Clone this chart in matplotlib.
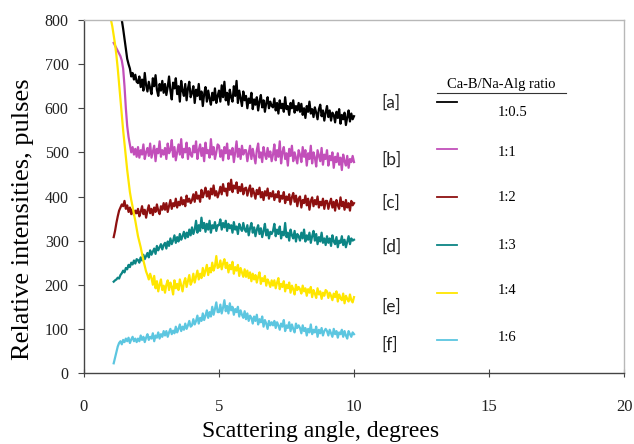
import numpy as np
import matplotlib
matplotlib.use("Agg")
import matplotlib.pyplot as plt

STEP = 0.05
labels = ["[a]", "[b]", "[c]", "[d]", "[e]", "[f]"]
ratios = ["1:0.5", "1:1", "1:2", "1:3", "1:4", "1:6"]
colors = ["#000000", "#C24FBA", "#8E1010", "#0C8585", "#FFE600", "#5CC6E0"]
starts = [1.4, 1.1, 1.1, 1.1, 1.0, 1.1]

a_vals = [800, 780, 758, 735, 712, 700, 690, 672, 680, 665, 676, 660,
          657, 672, 648, 665, 640, 680, 652, 638, 660, 645, 632, 668, 650, 675, 642, 628, 655, 640, 662, 635,
          655, 630, 648, 672, 640, 620, 658, 645, 668, 632, 650, 615, 662, 640, 628, 655, 618, 645, 660, 625,
          635, 650, 612, 642, 628, 655, 620, 638, 605, 632, 648, 615, 640, 622, 608, 635, 618, 645, 612, 628,
          640, 615, 652, 625, 660, 618, 635, 608, 642, 625, 615, 650, 628, 662, 612, 640, 622, 605, 638, 618,
          628, 600, 622, 612, 635, 598, 620, 608, 625, 595, 615, 630, 602, 618, 592, 612, 625, 600, 615, 605,
          602, 622, 595, 612, 588, 618, 600, 610, 592, 625, 598, 605, 585, 612, 600, 618, 590, 605, 595, 612,
          592, 610, 585, 600, 578, 605, 592, 615, 588, 598, 580, 602, 590, 575, 598, 608, 582, 595, 572, 590,
          605, 580, 595, 572, 590, 585, 568, 592, 578, 598, 565, 585, 575, 590, 562, 580, 595, 570, 588, 575,
          582]
b_vals = [748, 742, 736, 730, 724, 718, 708, 690, 650, 600, 560, 535, 518, 500, 512, 495, 508, 490,
          512, 488, 505, 495, 518, 485, 500, 510, 492, 520, 488, 502, 515, 480, 508, 498, 525, 490, 505, 495,
          510, 485, 520, 498, 505, 528, 490, 512, 482, 500, 518, 495, 530, 488, 508, 500, 522, 485, 510, 495,
          490, 515, 500, 525, 485, 505, 518, 492, 510, 480, 522, 498, 505, 488, 530, 495, 512, 485, 500, 518,
          515, 490, 505, 482, 512, 498, 520, 485, 505, 495, 510, 478, 500, 525, 490, 508, 485, 515, 495, 505,
          505, 480, 498, 515, 485, 508, 492, 475, 505, 520, 488, 500, 478, 512, 495, 485, 510, 490, 502, 480,
          495, 518, 482, 505, 490, 525, 475, 500, 512, 485, 498, 470, 508, 492, 515, 480, 500, 488, 475, 505,
          495, 478, 512, 490, 505, 470, 498, 485, 515, 475, 500, 488, 468, 505, 492, 480, 510, 472, 495, 485,
          505, 470, 492, 482, 500, 465, 490, 478, 498, 472, 488, 460, 495, 480, 470, 492, 465, 485, 478, 492,
          478]
c_vals = [308, 322, 340, 355, 368, 375, 382, 378, 390, 372, 380, 365, 375, 360, 372, 358, 368, 362,
          372, 355, 365, 378, 360, 370, 352, 368, 380, 362, 372, 358, 375, 365, 382, 368, 360, 378, 370, 385,
          370, 385, 365, 378, 392, 372, 385, 378, 395, 375, 388, 380, 398, 382, 392, 378, 402, 388, 395, 385,
          392, 405, 388, 410, 395, 402, 388, 415, 398, 408, 420, 400, 412, 395, 418, 405, 425, 402, 412, 398,
          408, 422, 405, 428, 412, 418, 402, 430, 415, 438, 410, 425, 418, 432, 408, 422, 412, 428, 405, 418,
          420, 402, 415, 425, 400, 418, 408, 395, 415, 405, 420, 398, 410, 392, 412, 402, 418, 395, 408, 400,
          412, 392, 405, 398, 412, 388, 402, 395, 410, 385, 400, 392, 405, 382, 398, 408, 388, 402, 378, 395,
          400, 375, 392, 385, 402, 380, 395, 370, 390, 398, 378, 392, 382, 400, 375, 388, 380, 395, 372, 390,
          390, 372, 385, 395, 375, 388, 368, 392, 380, 372, 398, 378, 388, 370, 392, 375, 385, 368, 390, 380,
          385]
d_vals = [207, 210, 212, 216, 214, 222, 226, 232, 228, 238, 235, 245, 240, 250, 246, 255, 248, 258,
          256, 250, 262, 255, 268, 258, 265, 272, 262, 278, 268, 275, 282, 270, 288, 278, 285, 292, 280, 290,
          295, 282, 298, 288, 305, 292, 300, 312, 295, 308, 298, 315, 302, 310, 320, 305, 318, 308, 325, 312,
          330, 315, 325, 345, 318, 335, 322, 352, 328, 340, 320, 338, 325, 345, 318, 335, 328, 342, 322, 335,
          335, 348, 325, 340, 330, 345, 322, 338, 328, 335, 318, 342, 325, 332, 315, 338, 328, 322, 340, 325,
          320, 335, 312, 328, 340, 318, 330, 310, 325, 335, 315, 328, 308, 322, 338, 312, 325, 305, 320, 315,
          322, 338, 310, 325, 315, 332, 305, 320, 312, 340, 308, 318, 300, 325, 312, 305, 322, 298, 315, 310,
          300, 318, 305, 325, 298, 312, 302, 318, 295, 310, 322, 300, 315, 292, 308, 298, 318, 295, 305, 290,
          310, 295, 305, 288, 312, 298, 292, 308, 285, 300, 295, 310, 290, 302, 285, 298, 310, 292, 305, 300,
          302]
e_vals = [800, 785, 765, 745, 720, 690, 655, 620, 585, 550, 520, 490, 460, 435, 410, 392, 377, 360, 345, 328,
          310, 298, 285, 270, 255, 242, 230, 222, 212, 225, 215, 200, 220, 192, 208, 185, 200, 212, 188, 198,
          182, 200, 210, 188, 205, 195, 178, 210, 192, 202, 188, 212, 198, 185, 205, 215, 195, 208, 222, 200,
          208, 225, 205, 218, 232, 212, 225, 215, 238, 220, 232, 245, 222, 238, 228, 250, 232, 242, 265, 238,
          240, 255, 235, 248, 258, 238, 250, 228, 245, 235, 252, 225, 240, 232, 245, 220, 238, 228, 218, 235,
          218, 232, 215, 228, 208, 225, 212, 222, 205, 218, 228, 202, 215, 208, 220, 198, 212, 205, 195, 210,
          198, 210, 192, 205, 215, 190, 202, 195, 208, 185, 200, 192, 205, 182, 198, 190, 178, 200, 188, 195,
          190, 180, 198, 185, 192, 175, 190, 182, 195, 172, 188, 180, 170, 192, 178, 185, 168, 182, 175, 188,
          185, 170, 182, 175, 165, 180, 172, 185, 162, 178, 170, 165, 180, 158, 175, 168, 162, 178, 165, 160,
          172]
f_vals = [22, 35, 48, 60, 68, 72, 65, 75, 70, 78, 72, 80, 68, 76, 82, 72, 78, 70,
          78, 72, 85, 75, 82, 70, 80, 88, 75, 82, 78, 90, 72, 85, 80, 92, 78, 88, 82, 95,
          85, 95, 82, 92, 100, 88, 96, 90, 105, 92, 100, 110, 95, 105, 98, 112, 100, 108, 118, 105,
          108, 122, 110, 118, 130, 112, 125, 118, 135, 120, 130, 142, 125, 138, 128, 150, 132, 145, 160, 138,
          138, 155, 135, 148, 165, 140, 152, 135, 158, 142, 150, 132, 145, 138, 150, 128, 142, 132, 125, 140,
          122, 135, 118, 130, 125, 112, 128, 118, 132, 110, 122, 115, 128, 105, 120, 112, 100, 118, 108, 115,
          108, 118, 102, 115, 108, 98, 112, 105, 120, 95, 108, 102, 115, 95, 110, 100, 92, 112, 102, 108,
          102, 90, 108, 95, 102, 85, 100, 92, 110, 88, 98, 92, 105, 82, 98, 90, 102, 85, 95, 100,
          95, 85, 98, 90, 82, 100, 88, 95, 80, 92, 88, 98, 82, 95, 85, 78, 95, 88, 82, 92,
          88]
series = [a_vals, b_vals, c_vals, d_vals, e_vals, f_vals]

x_ticks = [0, 5, 10, 15, 20]
y_ticks = [0, 100, 200, 300, 400, 500, 600, 700, 800]

fig = plt.figure(figsize=(6.34, 4.44), dpi=100)
ax = fig.add_axes([84/634, 1-373/444, (624-84)/634, (373-20)/444])

for vals, st, col in zip(series, starts, colors):
    x = st + STEP*np.arange(len(vals))
    ax.plot(x, vals, color=col, lw=1.6)

ax.set_xlim(0, 20)
ax.set_ylim(0, 800)
ax.set_xticks(x_ticks)
ax.set_yticks(y_ticks)

serif = "Liberation Serif"
ax.set_xticklabels([str(t) for t in x_ticks], fontfamily=serif, fontsize=12, color="#222222")
ax.set_yticklabels([str(t) for t in y_ticks], fontfamily=serif, fontsize=11.5, color="#222222")
ax.tick_params(axis="x", direction="inout", length=6, pad=16, color="#444444")
ax.tick_params(axis="y", direction="out", length=4, pad=7, color="#444444")
for s in ["left", "bottom"]:
    ax.spines[s].set_color("#444444")
    ax.spines[s].set_linewidth(1.0)
for s in ["top", "right"]:
    ax.spines[s].set_color("#b8b8b8")
    ax.spines[s].set_linewidth(1.0)

def fx(px):
    return px/634
def fy(py):
    return 1-py/444

fig.text(fx(321), fy(437), "Scattering angle, degrees", fontfamily=serif, fontsize=17,
         ha="center", va="baseline")
fig.text(fx(23), fy(219), "Relative intensities, pulses", fontfamily=serif, fontsize=19,
         ha="center", va="center", rotation=90)

fig.text(fx(501), fy(84), "Ca-B/Na-Alg ratio", fontfamily=serif, fontsize=10.5,
         ha="center", va="center")
fig.add_artist(plt.Line2D([fx(437), fx(566)], [fy(93), fy(93)], color="#333333", lw=0.8))

label_y = [103, 160, 203, 247, 307, 345]
line_y = [102, 149, 197, 245, 293, 340]
ratio_y = [113, 153, 197, 245, 290, 337]
for lab, ly, sy, ry, rt, col in zip(labels, label_y, line_y, ratio_y, ratios, colors):
    fig.text(fx(381), fy(ly), lab, fontfamily="Lato", fontsize=12.5, ha="left", va="center",
             color="#222222")
    fig.add_artist(plt.Line2D([fx(437), fx(457)], [fy(sy), fy(sy)], color=col, lw=1.3))
    fig.text(fx(498), fy(ry), rt, fontfamily=serif, fontsize=10.5, ha="left", va="center")

fig.savefig("out.png", dpi=100)
